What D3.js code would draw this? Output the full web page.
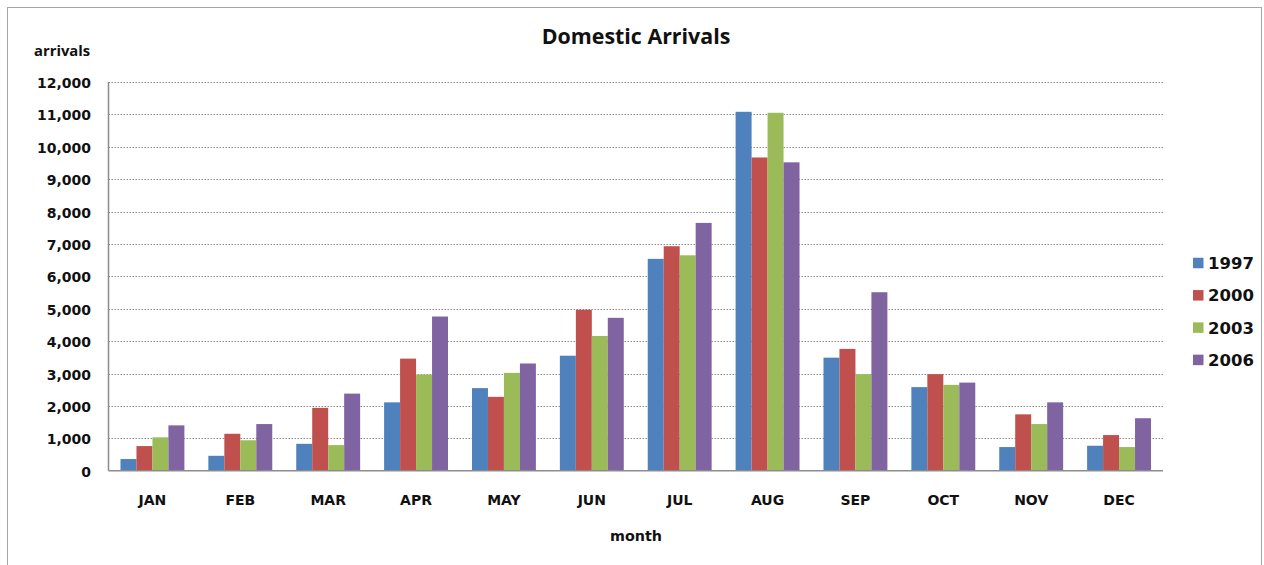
<!DOCTYPE html>
<html>
<head>
<meta charset="utf-8">
<script src="https://cdn.jsdelivr.net/npm/d3@7"></script>
<style>
  html, body { margin: 0; padding: 0; background: #fff; }
  svg { display: block; }
  text { font-family: "DejaVu Sans", sans-serif; font-weight: bold; fill: #111; }
  text.heading { font-family: "Open Sans", "DejaVu Sans", sans-serif; }
</style>
</head>
<body>
<svg id="chart" width="1264" height="565"></svg>
<script>
// Monthly domestic arrivals for four survey years
const months = ["JAN","FEB","MAR","APR","MAY","JUN","JUL","AUG","SEP","OCT","NOV","DEC"];
const years = ["1997","2000","2003","2006"];
const arrivals1997 = [360, 460, 830, 2110, 2550, 3550, 6540, 11080, 3490, 2580, 730, 770];
const arrivals2000 = [760, 1140, 1940, 3460, 2280, 4970, 6930, 9670, 3760, 2980, 1740, 1100];
const arrivals2003 = [1030, 940, 790, 2970, 3020, 4160, 6650, 11050, 2980, 2650, 1440, 730];
const arrivals2006 = [1400, 1440, 2380, 4760, 3310, 4720, 7650, 9520, 5510, 2720, 2110, 1620];
const yTicks = [0,1000,2000,3000,4000,5000,6000,7000,8000,9000,10000,11000,12000];
const colors = ["#4F81BD", "#C0504D", "#9BBB59", "#8064A2"];

const seriesValues = [arrivals1997, arrivals2000, arrivals2003, arrivals2006];

const svg = d3.select("#chart");

// outer frame
svg.append("rect")
  .attr("x", 7.5).attr("y", 7.5)
  .attr("width", 1254).attr("height", 600)
  .attr("fill", "none").attr("stroke", "#a6a6a6").attr("stroke-width", 1);

const plot = { left: 108.5, right: 1163, top: 82, bottom: 470.7 };

const x = d3.scaleBand().domain(months).range([plot.left, plot.right]);
// four bars per month, with a gap of 1.5 bar widths between month groups
const x1 = d3.scaleBand().domain(years).range([0, x.bandwidth()]).paddingOuter(0.75).paddingInner(0);
const y = d3.scaleLinear().domain([0, 12000]).range([plot.bottom, plot.top]);

// horizontal gridlines (dotted)
svg.append("g")
  .selectAll("line")
  .data(yTicks.filter(d => d > 0))
  .join("line")
  .attr("x1", plot.left).attr("x2", plot.right)
  .attr("y1", d => Math.round(y(d)) + 0.5).attr("y2", d => Math.round(y(d)) + 0.5)
  .attr("stroke", "#8c8c8c").attr("stroke-width", 1)
  .attr("stroke-dasharray", "1.5,1.5");

// bars
const groups = svg.append("g")
  .selectAll("g")
  .data(months)
  .join("g")
  .attr("transform", d => `translate(${x(d)},0)`);

groups.selectAll("rect")
  .data((m, i) => years.map((yr, k) => ({ yr, k, v: seriesValues[k][i] })))
  .join("rect")
  .attr("x", d => x1(d.yr))
  .attr("width", x1.bandwidth())
  .attr("y", d => y(d.v))
  .attr("height", d => y(0) - y(d.v))
  .attr("fill", d => colors[d.k]);

// axis lines
svg.append("line")
  .attr("x1", plot.left).attr("x2", plot.left)
  .attr("y1", plot.top).attr("y2", plot.bottom)
  .attr("stroke", "#8c8c8c").attr("stroke-width", 1.5);
svg.append("line")
  .attr("x1", plot.left).attr("x2", plot.right)
  .attr("y1", plot.bottom).attr("y2", plot.bottom)
  .attr("stroke", "#8c8c8c").attr("stroke-width", 1.5);

// y-axis tick labels
const fmt = d3.format(",");
svg.append("g")
  .selectAll("text")
  .data(yTicks)
  .join("text")
  .attr("x", 91)
  .attr("y", d => y(d) + 1)
  .attr("dy", "0.36em")
  .attr("text-anchor", "end")
  .attr("font-size", 14)
  .text(d => fmt(d));

// x-axis category labels
svg.append("g")
  .selectAll("text")
  .data(months)
  .join("text")
  .attr("x", d => x(d) + x.bandwidth() / 2)
  .attr("y", 500)
  .attr("dy", "0.36em")
  .attr("text-anchor", "middle")
  .attr("font-size", 14)
  .text(d => d);

// titles
svg.append("text")
  .attr("class", "heading")
  .attr("x", 636).attr("y", 36)
  .attr("dy", "0.36em")
  .attr("text-anchor", "middle")
  .attr("font-size", 21.4)
  .text("Domestic Arrivals");

svg.append("text")
  .attr("class", "heading")
  .attr("x", 34).attr("y", 51)
  .attr("dy", "0.36em")
  .attr("font-size", 14.8)
  .text("arrivals");

svg.append("text")
  .attr("x", 636).attr("y", 536)
  .attr("dy", "0.36em")
  .attr("text-anchor", "middle")
  .attr("font-size", 14.3)
  .text("month");

// legend
const legend = svg.append("g")
  .selectAll("g")
  .data(years)
  .join("g")
  .attr("transform", (d, i) => `translate(1193,${263 + i * 32.3})`);
legend.append("rect")
  .attr("x", 0).attr("y", -5.25)
  .attr("width", 10.5).attr("height", 10.5)
  .attr("fill", (d, i) => colors[i]);
legend.append("text")
  .attr("x", 15).attr("y", 0)
  .attr("dy", "0.36em")
  .attr("font-size", 16.5)
  .text(d => d);
</script>
</body>
</html>
